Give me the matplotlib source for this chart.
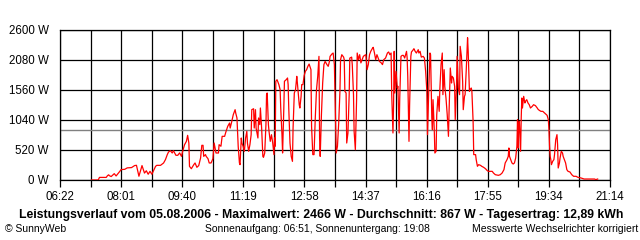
import numpy as np
import matplotlib
matplotlib.use("Agg")
import matplotlib.pyplot as plt

plt.rcParams['font.family'] = ['Liberation Sans', 'DejaVu Sans']

# minutes after midnight and power in W
minutes = [433, 444, 446, 457, 459, 461, 462, 465, 470, 473, 479, 481, 487, 491, 498, 503, 506, 510, 515, 519,
           522, 525, 528, 531, 537, 539, 545, 550, 553, 556, 558, 561, 564, 566, 570, 573, 576, 579, 581, 584,
           587, 589, 591, 592, 595, 599, 601, 604, 607, 610, 612, 614, 615, 618, 619, 622, 624, 627, 630, 632,
           634, 635, 639, 640, 643, 645, 649, 651, 654, 657, 658, 660, 663, 666, 667, 669, 671, 673, 674, 676,
           677, 679, 681, 683, 685, 686, 688, 690, 692, 693, 696, 697, 699, 700, 703, 704, 706, 707, 709, 711,
           712, 714, 716, 717, 718, 720, 721, 723, 725, 727, 729, 730, 731, 732, 734, 737, 739, 740, 742, 743,
           745, 746, 749, 751, 752, 753, 755, 757, 759, 760, 762, 764, 766, 767, 770, 771, 773, 774, 776, 778,
           780, 782, 784, 786, 789, 790, 792, 794, 796, 798, 800, 802, 803, 804, 806, 808, 810, 812, 815, 817,
           819, 820, 823, 825, 827, 829, 830, 832, 834, 836, 837, 839, 842, 843, 844, 846, 847, 849, 851, 852,
           855, 856, 858, 859, 861, 863, 864, 866, 868, 870, 872, 874, 876, 878, 880, 882, 884, 886, 889, 890,
           892, 894, 896, 898, 900, 903, 905, 907, 910, 913, 915, 917, 919, 920, 922, 923, 924, 925, 927, 929,
           930, 932, 933, 935, 937, 939, 941, 944, 945, 946, 948, 949, 951, 952, 955, 956, 958, 960, 963, 964,
           966, 968, 971, 973, 975, 977, 978, 980, 982, 983, 985, 986, 987, 989, 990, 992, 993, 995, 997, 998,
           1000, 1002, 1003, 1005, 1006, 1008, 1010, 1012, 1013, 1015, 1017, 1018, 1020, 1022, 1023, 1025, 1026,
           1028, 1030, 1031, 1033, 1035, 1036, 1038, 1039, 1041, 1043, 1044, 1046, 1047, 1049, 1050, 1052, 1053,
           1056, 1057, 1059, 1061, 1064, 1066, 1069, 1072, 1075, 1077, 1083, 1085, 1088, 1093, 1096, 1099, 1102,
           1104, 1107, 1109, 1110, 1111, 1113, 1115, 1117, 1119, 1121, 1123, 1124, 1125, 1126, 1127, 1129, 1130,
           1131, 1132, 1134, 1136, 1137, 1139, 1141, 1143, 1145, 1148, 1150, 1153, 1156, 1157, 1159, 1162, 1165,
           1168, 1170, 1172, 1174, 1175, 1176, 1177, 1178, 1179, 1181, 1183, 1184, 1186, 1188, 1189, 1190, 1192,
           1193, 1195, 1197, 1198, 1200, 1202, 1204, 1206, 1209, 1212, 1215, 1219, 1222, 1227, 1232, 1238, 1243,
           1249, 1251, 1254]
watts = [0, 0, 45, 45, 75, 90, 75, 60, 110, 70, 150, 180, 185, 210, 215, 250, 255, 65, 250, 120,
         160, 100, 150, 100, 237, 254, 254, 295, 353, 440, 485, 508, 468, 508, 428, 428, 470, 410, 500, 612,
         670, 774, 640, 237, 196, 266, 295, 220, 250, 381, 601, 601, 410, 440, 410, 370, 295, 295, 370, 641,
         525, 468, 468, 612, 585, 757, 757, 832, 930, 988, 900, 988, 1132, 1219, 1160, 1075, 584, 295, 266, 728,
         640, 585, 497, 728, 844, 640, 497, 612, 785, 1219, 1235, 901, 1219, 901, 728, 1075, 960, 1248, 901, 410,
         393, 468, 960, 1479, 1508, 959, 844, 670, 785, 640, 440, 728, 585, 1711, 1739, 1653, 1566, 1248, 786, 468,
         1248, 1711, 1740, 1768, 1653, 1248, 641, 410, 323, 901, 1508, 1566, 1797, 1681, 1305, 1248, 1450, 1653, 1653, 1810,
         1884, 1913, 1970, 2010, 1913, 930, 440, 440, 1075, 1566, 1797, 2143, 728, 410, 1132, 1681, 1999, 2056, 1999, 1970,
         2056, 2143, 2184, 2201, 1999, 959, 468, 585, 988, 1537, 2085, 2172, 2130, 2085, 1537, 1508, 641, 815, 1479, 2114,
         2130, 2000, 1479, 844, 525, 1392, 2201, 2085, 2172, 2030, 2085, 2143, 2160, 2172, 1912, 2000, 2172, 2230, 2288, 2300,
         2201, 2085, 2172, 2114, 2056, 2030, 2000, 2085, 2114, 2201, 2219, 2172, 2201, 1479, 815, 1305, 2230, 1508, 1884, 1595,
         1624, 815, 1421, 2143, 2160, 2160, 2114, 2230, 2114, 1797, 670, 1305, 2143, 2219, 2259, 2276, 2230, 2201, 2259, 2201,
         2230, 2130, 2143, 2114, 1884, 1537, 786, 1537, 2201, 2172, 1075, 872, 1392, 872, 468, 497, 1132, 1450, 1190, 1566,
         1999, 2201, 1479, 1912, 1624, 1421, 1132, 757, 1190, 1941, 1681, 1797, 1768, 1624, 1045, 1595, 2143,
         1595, 1479, 2317, 2143, 1710, 1219, 1450, 1479, 1941, 2466, 2230, 1537, 1566, 1595, 1537, 1010, 440,
         440, 353, 237, 266, 254, 237, 220, 196, 162, 150, 150, 121, 92, 81, 92, 121, 179,
         295, 353, 410, 555, 410, 353, 295, 277, 295, 381, 584, 1045, 555, 960, 1017, 497, 1075,
         1421, 1248, 1450, 1335, 1364, 1392, 1335, 1305, 1248, 1277, 1305, 1290, 1248, 1230, 1210, 1190, 1190,
         1160, 1140, 1121, 1045, 872, 584, 410, 353, 266, 323, 353, 440, 699, 786, 612, 208, 295,
         381, 497, 468, 410, 353, 295, 179, 150, 139, 92, 64, 64, 46, 35, 17, 17, 17,
         17, 6, 17]

average = 867
y_ticks = [0, 520, 1040, 1560, 2080, 2600]
x_labels = ["06:22", "08:01", "09:40", "11:19", "12:58", "14:37", "16:16", "17:55", "19:34", "21:14"]
t_start, t_end = 382, 1274

fig = plt.figure(figsize=(6.4, 2.4), dpi=100)
ax = fig.add_axes([60 / 640, 1 - 180 / 240, 550 / 640, 150 / 240])

ax.plot(minutes, watts, color="#ff0000", lw=0.9, zorder=3)
ax.axhline(average, color="#808080", lw=1.0, zorder=2)

grid_x = np.linspace(t_start, t_end, 19)
ax.set_xlim(t_start, t_end)
ax.set_ylim(0, 2600)
ax.set_xticks(grid_x)
ax.set_xticklabels([x_labels[i // 2] if i % 2 == 0 else "" for i in range(len(grid_x))])
ax.set_yticks(y_ticks)
ax.set_yticklabels([f"{v} W" for v in y_ticks])
ax.grid(True, color="black", lw=0.9)
ax.tick_params(axis="x", length=5, width=0.9, pad=3, labelsize=8.3)
ax.tick_params(axis="y", length=0, pad=8, labelsize=8.3)
for s in ax.spines.values():
    s.set_color("black")
    s.set_linewidth(0.9)

fig.text(0.502, 1 - 215 / 240,
         "Leistungsverlauf vom 05.08.2006 - Maximalwert: 2466 W - Durchschnitt: 867 W - Tagesertrag: 12,89 kWh",
         ha="center", va="center", fontsize=8.8, fontweight="bold")
fig.text(5 / 640, 1 - 229 / 240, "© SunnyWeb", ha="left", va="center", fontsize=7.5)
fig.text(205 / 640, 1 - 229 / 240, "Sonnenaufgang: 06:51, Sonnenuntergang: 19:08",
         ha="left", va="center", fontsize=7.5)
fig.text(638 / 640, 1 - 229 / 240, "Messwerte Wechselrichter korrigiert",
         ha="right", va="center", fontsize=7.5)

fig.savefig("out.png", dpi=100)
